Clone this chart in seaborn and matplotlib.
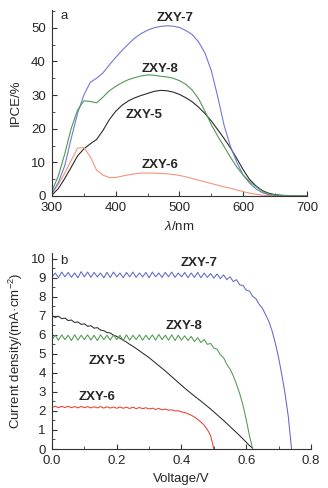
import numpy as np
import pandas as pd
import matplotlib
matplotlib.use("Agg")
import matplotlib.pyplot as plt
from matplotlib.ticker import MultipleLocator, FormatStrFormatter
import seaborn as sns

# ---- panel a: IPCE spectra (10 nm steps, 300-700 nm) ----
wavelength = list(range(300, 701, 10))
ipce_zxy7 = [0.8, 4, 9, 17, 24.5, 30, 33.8, 35, 36.6, 39, 41.2, 43.3, 45.2, 47, 48.3,
             49.3, 50, 50.4, 50.6, 50.5, 50.1, 49.2, 48, 45.8, 42.5, 37.2, 29.5, 21,
             14.7, 10, 6.2, 3.8, 2.1, 1.0, 0.4, 0.15, 0.05, 0, 0, 0, 0]
ipce_zxy8 = [1.5, 6, 12.5, 20, 25.5, 28.3, 28.1, 27.7, 29.4, 31.3, 32.6, 33.7, 34.6,
             35.2, 35.7, 36, 35.9, 35.6, 35.4, 35, 34.3, 33.2, 31.5, 28.9, 25.2, 21.2,
             17.8, 14.7, 11.5, 8.6, 6.2, 4.3, 2.8, 1.4, 0.6, 0.3, 0.15, 0.05, 0, 0, 0]
ipce_zxy5 = [0.3, 2.2, 5.2, 8.5, 11.9, 14, 15.5, 16.8, 19.5, 22.7, 25.2, 27, 28.3,
             29.2, 29.9, 30.5, 31.1, 31.4, 31.3, 30.9, 30.2, 29.2, 28, 26.4, 24.5,
             22.3, 19.7, 17.1, 14.3, 11.1, 7.8, 4.9, 3.0, 1.6, 0.8, 0.4, 0.2, 0.1,
             0.05, 0.02, 0]
ipce_zxy6 = [0.8, 3.5, 6.8, 10.5, 14.2, 14.4, 11.7, 7.7, 6.2, 5.5, 5.5, 5.9, 6.3, 6.6,
             6.8, 6.8, 6.8, 6.7, 6.6, 6.4, 6.1, 5.7, 5.2, 4.7, 4.2, 3.7, 3.2, 2.7, 2.3,
             1.8, 1.3, 0.85, 0.5, 0.25, 0.1, 0.05, 0, 0, 0, 0, 0]

# ---- panel b: J-V curves (0.01 V steps from 0 V) ----
jv_zxy7 = [9.05, 9.25, 9.00, 9.30, 9.05, 9.28, 9.02, 9.25, 9.00, 9.32, 9.05, 9.30,
           9.02, 9.28, 9.05, 9.25, 9.00, 9.28, 9.02, 9.30, 9.05, 9.25, 9.00, 9.28,
           9.05, 9.30, 9.02, 9.25, 9.05, 9.28, 9.00, 9.30, 9.05, 9.25, 9.02, 9.28,
           9.05, 9.30, 9.02, 9.25, 9.05, 9.28, 9.00, 9.25, 9.02, 9.28, 9.00, 9.25,
           9.02, 9.22, 8.98, 9.20, 8.95, 9.15, 8.90, 9.05, 8.80, 8.90, 8.62, 8.60,
           8.35, 8.30, 8.02, 7.90, 7.60, 7.40, 7.05, 6.70, 6.20, 5.55, 4.80, 3.90,
           2.90, 1.70, 0.0]
jv_zxy8 = [5.75, 5.98, 5.72, 6.00, 5.75, 5.98, 5.70, 6.00, 5.72, 5.98, 5.75, 6.00,
           5.72, 5.98, 5.70, 6.00, 5.75, 5.98, 5.72, 6.00, 5.75, 5.98, 5.70, 6.00,
           5.72, 5.98, 5.75, 6.00, 5.72, 5.98, 5.75, 6.00, 5.72, 6.02, 5.75, 5.98,
           5.72, 6.00, 5.70, 5.98, 5.72, 5.95, 5.70, 5.92, 5.65, 5.85, 5.60, 5.75,
           5.50, 5.55, 5.30, 5.25, 4.95, 4.80, 4.45, 4.20, 3.85, 3.40, 2.90, 2.30,
           1.55, 0.70, 0.0]
jv_zxy5 = [7.00, 6.92, 6.98, 6.85, 6.88, 6.75, 6.78, 6.65, 6.68, 6.55, 6.58, 6.45,
           6.48, 6.35, 6.38, 6.25, 6.22, 6.12, 6.10, 5.98, 5.92, 5.82, 5.72, 5.62,
           5.50, 5.40, 5.28, 5.16, 5.04, 4.92, 4.80, 4.66, 4.52, 4.38, 4.24, 4.10,
           3.95, 3.80, 3.65, 3.50, 3.35, 3.20, 3.06, 2.92, 2.78, 2.65, 2.52, 2.38,
           2.24, 2.10, 1.95, 1.80, 1.65, 1.50, 1.34, 1.18, 1.02, 0.86, 0.70, 0.53,
           0.36, 0.18, 0.05]
jv_zxy6 = [2.18, 2.25, 2.17, 2.24, 2.18, 2.25, 2.17, 2.23, 2.16, 2.24, 2.17, 2.23,
           2.16, 2.22, 2.16, 2.23, 2.15, 2.22, 2.15, 2.21, 2.14, 2.21, 2.14, 2.20,
           2.13, 2.20, 2.12, 2.18, 2.12, 2.17, 2.10, 2.15, 2.08, 2.13, 2.06, 2.10,
           2.04, 2.06, 2.00, 2.01, 1.95, 1.92, 1.85, 1.78, 1.68, 1.56, 1.42, 1.25,
           1.02, 0.70, 0.0]

names = ["ZXY-5", "ZXY-6", "ZXY-7", "ZXY-8"]
colors_a = {"ZXY-5": "#2b2b2b", "ZXY-6": "#f4957a", "ZXY-7": "#7079d0", "ZXY-8": "#4e9a52"}
colors_b = {"ZXY-5": "#2b2b2b", "ZXY-6": "#e8402e", "ZXY-7": "#5f69c6", "ZXY-8": "#4e9a52"}

ipce = {"ZXY-5": ipce_zxy5, "ZXY-6": ipce_zxy6, "ZXY-7": ipce_zxy7, "ZXY-8": ipce_zxy8}
jv = {"ZXY-5": jv_zxy5, "ZXY-6": jv_zxy6, "ZXY-7": jv_zxy7, "ZXY-8": jv_zxy8}

df_a = pd.concat([pd.DataFrame({"wl": wavelength, "ipce": ipce[n], "dye": n}) for n in names])
df_b = pd.concat([pd.DataFrame({"v": np.arange(len(jv[n])) * 0.01, "j": jv[n], "dye": n}) for n in names])

sns.set_style("ticks")
plt.rcParams["font.family"] = ["Liberation Sans", "DejaVu Sans"]
plt.rcParams["mathtext.fontset"] = "custom"
plt.rcParams["mathtext.rm"] = "Liberation Sans"
plt.rcParams["mathtext.it"] = "Liberation Sans:italic"
plt.rcParams["font.size"] = 9.5

fig = plt.figure(figsize=(3.28, 4.88), dpi=100)
ax1 = fig.add_axes([0.1585, 0.5984, 0.7774, 0.3811])
ax2 = fig.add_axes([0.1585, 0.0799, 0.7896, 0.4016])

sns.lineplot(data=df_a, x="wl", y="ipce", hue="dye", palette=colors_a, ax=ax1,
             legend=False, lw=0.8, estimator=None)
sns.lineplot(data=df_b, x="v", y="j", hue="dye", palette=colors_b, ax=ax2,
             legend=False, lw=0.75, estimator=None)

for ax in (ax1, ax2):
    sns.despine(ax=ax)
    ax.tick_params(which="both", direction="in", labelsize=9.5, color="#333333")
    ax.tick_params(axis="x", which="both", pad=4.5)
    ax.tick_params(axis="y", which="both", pad=4.5)
    ax.tick_params(which="major", length=3.5, width=0.8)
    ax.tick_params(which="minor", length=2, width=0.6)
    for s in ("left", "bottom"):
        ax.spines[s].set_linewidth(0.8)
        ax.spines[s].set_color("#333333")

ax1.set_xlim(300, 700)
ax1.set_ylim(0, 55.3)
ax1.xaxis.set_major_locator(MultipleLocator(100))
ax1.xaxis.set_minor_locator(MultipleLocator(50))
ax1.yaxis.set_major_locator(MultipleLocator(10))
ax1.yaxis.set_minor_locator(MultipleLocator(5))
ax1.set_xlabel(r"$\mathit{\lambda}$/nm", fontsize=9.5, labelpad=4.5)
ax1.set_ylabel("IPCE/%", fontsize=9.5, labelpad=6.5)

ax2.set_xlim(0, 0.8)
ax2.set_ylim(0, 10.3)
ax2.xaxis.set_major_locator(MultipleLocator(0.2))
ax2.xaxis.set_minor_locator(MultipleLocator(0.1))
ax2.yaxis.set_major_locator(MultipleLocator(1))
ax2.yaxis.set_minor_locator(MultipleLocator(0.5))
ax2.xaxis.set_major_formatter(FormatStrFormatter("%.1f"))
ax2.set_xlabel("Voltage/V", fontsize=9.5, labelpad=4)
ax2.set_ylabel(r"Current density/(mA·cm$^{-2}$)", fontsize=9.5, labelpad=4.5)

lab = dict(fontsize=9.5, fontweight="bold", ha="center", va="center")
ax1.text(319, 53.5, "a", fontsize=9.5, ha="center", va="center")
ax1.text(493, 52.8, "ZXY-7", **lab)
ax1.text(470, 37.9, "ZXY-8", **lab)
ax1.text(444, 24.0, "ZXY-5", **lab)
ax1.text(470, 9.2, "ZXY-6", **lab)

ax2.text(0.035, 9.86, "b", fontsize=9.5, ha="center", va="center")
ax2.text(0.453, 9.8, "ZXY-7", **lab)
ax2.text(0.407, 6.47, "ZXY-8", **lab)
ax2.text(0.171, 4.65, "ZXY-5", **lab)
ax2.text(0.140, 2.72, "ZXY-6", **lab)

fig.savefig("out.png", dpi=100)
